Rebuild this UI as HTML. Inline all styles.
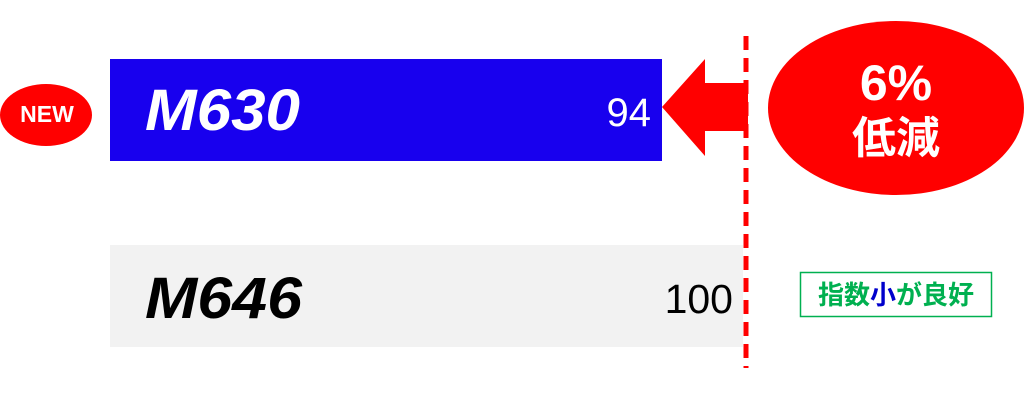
<!DOCTYPE html>
<html><head><meta charset="utf-8"><style>
html,body{margin:0;padding:0;background:#fff;width:1024px;height:407px;overflow:hidden}
</style></head><body>
<svg width="1024" height="407" viewBox="0 0 1024 407" xmlns="http://www.w3.org/2000/svg">
<rect x="110" y="59" width="552" height="102" fill="#1800EE"/>
<rect x="110" y="245" width="633" height="102" fill="#F2F2F2"/>
<ellipse cx="46" cy="115" rx="46" ry="31" fill="#FF0000"/>
<text x="47" y="122" text-anchor="middle" font-family="Liberation Sans, sans-serif" font-weight="bold" font-size="23" fill="#fff">NEW</text>
<text x="145" y="130" font-family="Liberation Sans, sans-serif" font-weight="bold" font-style="italic" font-size="58" fill="#fff" textLength="155" lengthAdjust="spacingAndGlyphs">M630</text>
<text x="651" y="126" text-anchor="end" font-family="Liberation Sans, sans-serif" font-size="40" fill="#fff">94</text>
<text x="145" y="318" font-family="Liberation Sans, sans-serif" font-weight="bold" font-style="italic" font-size="58" fill="#000" textLength="157" lengthAdjust="spacingAndGlyphs">M646</text>
<text x="733" y="313" text-anchor="end" font-family="Liberation Sans, sans-serif" font-size="41" fill="#000">100</text>
<polygon points="662,107 705,59 705,83 748,83 748,131 705,131 705,156" fill="#FF0000"/>
<line x1="746" y1="36" x2="746" y2="368" stroke="#FF0000" stroke-width="5" stroke-dasharray="14,8"/>
<ellipse cx="896" cy="108" rx="128" ry="87" fill="#FF0000"/>
<text x="896" y="100" text-anchor="middle" font-family="Liberation Sans, sans-serif" font-weight="bold" font-size="50" fill="#fff">6%</text>
<text x="896" y="153" text-anchor="middle" font-family="Liberation Sans, 'Noto Sans CJK JP', sans-serif" font-weight="bold" font-size="44" fill="#fff">低減</text>
<rect x="800.5" y="272.5" width="191" height="44" fill="#fff" stroke="#00B050" stroke-width="1.5"/>
<text x="896" y="304" text-anchor="middle" font-family="Liberation Sans, 'Noto Sans CJK JP', sans-serif" font-weight="bold" font-size="26" fill="#00B050">指数<tspan fill="#0000CC">小</tspan>が良好</text>
</svg>
</body></html>
